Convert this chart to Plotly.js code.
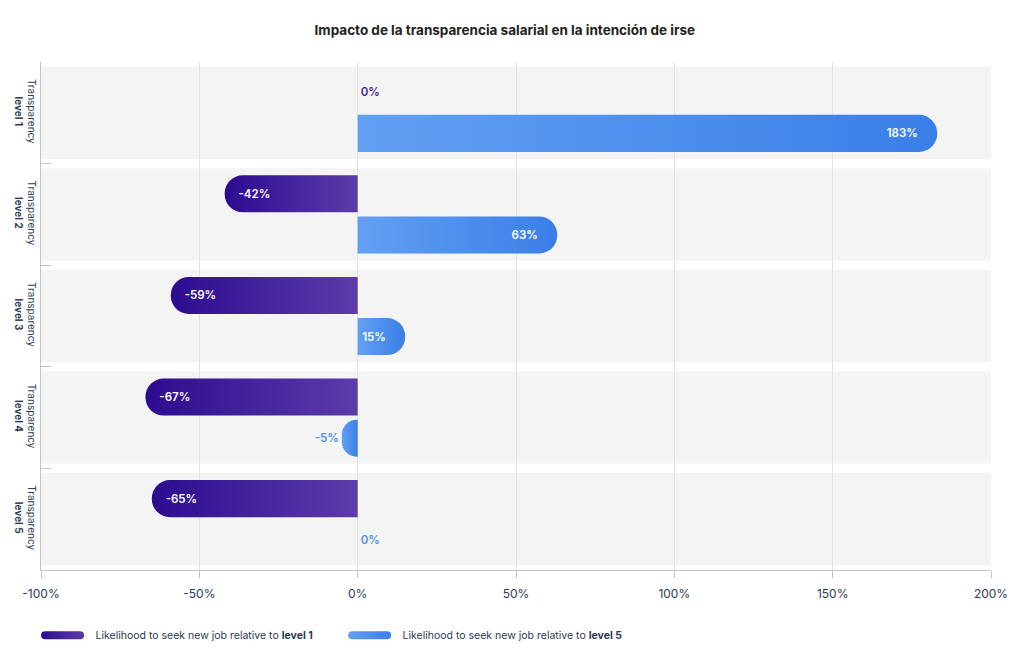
<!DOCTYPE html>
<html><head><meta charset="utf-8">
<script src="https://cdn.plot.ly/plotly-3.0.1.min.js"></script>
<style>html,body{margin:0;padding:0;background:#fff}#chart{width:1024px;height:655px}</style>
</head><body><div id="chart"></div>
<script>
const categories = ['Transparency level 1','Transparency level 2','Transparency level 3','Transparency level 4','Transparency level 5'];
const categoryLabels = ['Transparency<br><b>level 1</b>','Transparency<br><b>level 2</b>','Transparency<br><b>level 3</b>','Transparency<br><b>level 4</b>','Transparency<br><b>level 5</b>'];
const seriesNames = ['Likelihood to seek new job relative to <b>level 1</b>','Likelihood to seek new job relative to <b>level 5</b>'];
const relativeToLevel1 = [0, -42, -59, -67, -65];
const relativeToLevel5 = [183, 63, 15, -5, 0];
const xTickVals = [-100, -50, 0, 50, 100, 150, 200];
const xTickText = ['-100%', '-50%', '0%', '50%', '100%', '150%', '200%'];
const chartTitle = 'Impacto de la transparencia salarial en la intención de irse';

const purple = '#45259f', blue = '#4f8fee';
const fontFam = 'Inter, "Noto Sans", sans-serif';
const PAD = '\u2007\u2007';

function barTrace(name, vals, color){
  const small = vals.map(v => Math.abs(v) < 10);
  return {
    type:'bar', orientation:'h', name:name, y:categories, x:vals,
    text: vals.map((v,i) => small[i] ? v+'%' : (v < 0 ? '\u2007\u2009' + v + '%' : v + '%' + PAD)),
    textposition: small.map(s => s ? 'outside' : 'inside'),
    insidetextanchor:'end', constraintext:'none',
    insidetextfont:{color:'#ffffff', size:11.5, family:fontFam, weight:600},
    outsidetextfont:{color:color, size:11.5, family:fontFam, weight:600},
    textangle:0, cliponaxis:false,
    marker:{color:color, cornerradius:'50%', line:{width:0}},
    hoverinfo:'skip'
  };
}
const data = [barTrace(seriesNames[0], relativeToLevel1, purple), barTrace(seriesNames[1], relativeToLevel5, blue)];

const shapes = categories.map((c,i)=>({
  type:'rect', layer:'below', xref:'paper', yref:'y', x0:0, x1:1, y0:i-0.455, y1:i+0.455,
  fillcolor:'#f4f4f4', line:{width:0}
}));

const layout = {
  width:1024, height:655,
  margin:{l:41, r:33, t:62, b:85, autoexpand:false},
  paper_bgcolor:'#ffffff', plot_bgcolor:'#ffffff',
  font:{family:fontFam, color:'#2b3a55'},
  title:{text:'<b>'+chartTitle+'</b>', x:0.493, xref:'container', y:0.954, yanchor:'middle', font:{size:13.5, color:'#222222', family:fontFam}},
  barmode:'group', bargap:0.19, bargroupgap:0.1,
  xaxis:{range:[-100,200], tickvals:xTickVals, ticktext:xTickText, showgrid:true, gridcolor:'#e2e2e2', gridwidth:1,
    zeroline:true, zerolinecolor:'#e2e2e2', zerolinewidth:1, showline:true, linecolor:'#c4c4c4',
    ticks:'outside', ticklen:7, tickcolor:'#c4c4c4', ticklabelstandoff:6, automargin:false,
    tickfont:{size:12, color:'#2b3a55', family:fontFam}, fixedrange:true},
  yaxis:{type:'category', autorange:'reversed', tickvals:categories, ticktext:categoryLabels, tickangle:90,
    tickson:'boundaries', ticks:'inside', ticklen:10, tickcolor:'#c4c4c4', showline:true, linecolor:'#c4c4c4',
    showgrid:false, zeroline:false, automargin:false, tickfont:{size:10, color:'#2b3a55', family:fontFam}, fixedrange:true},
  shapes:shapes,
  showlegend:true,
  legend:{orientation:'h', x:-0.012, xanchor:'left', y:-0.1, yanchor:'top', itemwidth:56,
    entrywidth:236, entrywidthmode:'pixels', font:{size:10.5, color:'#2b3a55', family:fontFam}, traceorder:'normal'}
};

Plotly.newPlot('chart', data, layout, {displayModeBar:false, staticPlot:true}).then(gd=>{
  const NS='http://www.w3.org/2000/svg';
  const svg = gd.querySelector('.main-svg');
  let defs = svg.querySelector('defs');
  if(!defs){defs=document.createElementNS(NS,'defs'); svg.insertBefore(defs, svg.firstChild);}
  function grad(id,c0,c1){
    const g=document.createElementNS(NS,'linearGradient');
    g.setAttribute('id',id); g.setAttribute('x1','0'); g.setAttribute('x2','1'); g.setAttribute('y1','0'); g.setAttribute('y2','0');
    [[0,c0],[1,c1]].forEach(([o,c])=>{const s=document.createElementNS(NS,'stop'); s.setAttribute('offset',o); s.setAttribute('stop-color',c); g.appendChild(s);});
    defs.appendChild(g);
  }
  grad('gradS0','#2c0b90','#5c3ca9');
  grad('gradS1','#62a0f2','#3a7fe8');
  gd.querySelectorAll('.barlayer .trace').forEach((t,i)=>{
    t.querySelectorAll('.point path').forEach(p=>{p.style.fill='url(#gradS'+i+')';});
  });
  gd.querySelectorAll('.legend .traces').forEach((t,i)=>{
    t.querySelectorAll('.legendpoints path').forEach(p=>{
      p.setAttribute('d','M-17.5,-4H17.5A4,4 0 0 1 17.5,4H-17.5A4,4 0 0 1 -17.5,-4Z');
      p.style.fill='url(#gradS'+i+')'; p.style.stroke='none';
    });
  });
});
</script></body></html>
